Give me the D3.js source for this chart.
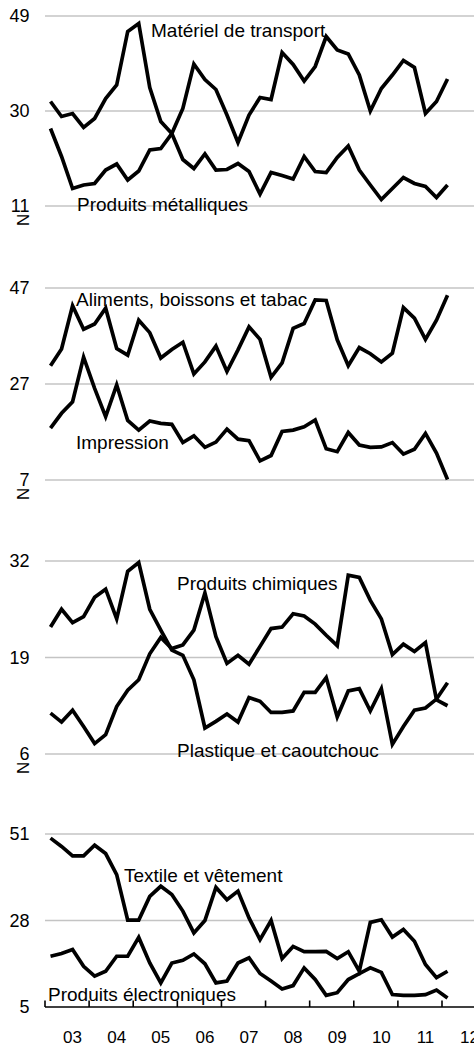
<!DOCTYPE html>
<html>
<head>
<meta charset="utf-8">
<script src="https://cdn.jsdelivr.net/npm/d3@7"></script>
<style>
  html, body { margin: 0; padding: 0; background: #fff; }
  svg { display: block; }
  text { font-family: "Liberation Sans", Arial, sans-serif; fill: #000; }
</style>
</head>
<body>
<script>
// ---------- DATA ----------
const quarters = [
  "2003T1","2003T2","2003T3","2003T4","2004T1","2004T2","2004T3","2004T4",
  "2005T1","2005T2","2005T3","2005T4","2006T1","2006T2","2006T3","2006T4",
  "2007T1","2007T2","2007T3","2007T4","2008T1","2008T2","2008T3","2008T4",
  "2009T1","2009T2","2009T3","2009T4","2010T1","2010T2","2010T3","2010T4",
  "2011T1","2011T2","2011T3","2011T4","2012T1"
];
const yearTicks = [2003,2004,2005,2006,2007,2008,2009,2010,2011,2012];
const yearLabels = ["03","04","05","06","07","08","09","10","11","12"];

const materielTransport = [31.9,28.9,29.5,26.7,28.5,32.5,35.2,45.9,47.5,34.7,27.9,25.5,20.3,18.5,21.4,18.2,18.3,19.5,17.9,13.4,17.7,17.1,16.4,20.9,17.9,17.7,20.7,23.0,18.2,15.2,12.3,14.5,16.7,15.5,14.9,12.7,15.2];
const produitsMetalliques = [26.5,20.9,14.5,15.2,15.5,18.2,19.4,16.2,18.0,22.2,22.5,25.5,30.5,39.4,36.3,34.3,29.2,23.7,29.2,32.7,32.3,41.7,39.3,36.0,38.9,44.9,42.2,41.4,37.2,30.0,34.5,37.2,40.1,38.7,29.5,31.9,36.4];

const aliments = [30.8,34.3,43.3,38.4,39.5,42.8,34.4,33.0,40.3,37.7,32.4,34.2,35.7,29.1,31.6,34.9,29.6,34.1,38.9,36.3,28.4,31.4,38.6,39.6,44.5,44.4,36.2,30.8,34.6,33.3,31.6,33.4,42.9,40.7,36.3,40.3,45.5];
const impression = [17.8,20.9,23.3,32.6,26.1,20.2,26.8,19.4,17.4,19.3,18.8,18.6,14.8,16.2,13.8,14.9,17.6,15.5,15.2,11.0,12.1,17.1,17.4,18.1,19.5,13.5,12.9,16.9,14.3,13.8,13.9,14.8,12.4,13.4,16.7,12.6,7.1];

const chimiques = [23.1,25.5,23.7,24.5,27.1,28.2,24.2,30.6,31.8,25.5,22.7,20.0,19.3,16.0,9.5,10.4,11.4,10.3,13.6,13.1,11.6,11.6,11.8,14.3,14.3,16.3,11.0,14.5,14.8,11.8,14.8,7.3,9.7,11.9,12.2,13.4,15.6];
const plastique = [11.5,10.3,11.9,9.7,7.4,8.6,12.4,14.6,16.0,19.5,21.7,20.2,20.7,22.7,27.7,21.8,18.2,19.3,18.1,20.5,22.9,23.1,24.9,24.6,23.5,22.0,20.6,30.1,29.8,26.7,24.2,19.4,20.8,19.8,21.0,13.3,12.5];

const textile = [49.9,47.7,45.2,45.2,48.0,45.8,40.2,28.1,28.1,34.4,37.1,34.9,30.5,24.7,28.0,36.8,33.5,35.8,28.7,22.9,28.0,17.9,21.1,19.7,19.7,19.8,17.9,19.7,14.5,27.5,28.2,23.6,25.6,22.5,16.3,12.8,14.5];
const electroniques = [18.5,19.2,20.3,15.8,13.2,14.5,18.5,18.5,23.5,16.7,11.4,16.7,17.4,19.1,16.5,11.4,11.9,16.7,18.1,13.9,11.9,9.8,10.7,15.4,12.3,8.1,8.8,12.3,13.9,15.4,14.2,8.3,8.1,8.1,8.3,9.5,7.4];

const panel1Ticks = [11,30,49];
const panel2Ticks = [7,27,47];
const panel3Ticks = [6,19,32];
const panel4Ticks = [5,28,51];

// ---------- LAYOUT ----------
const W = 474, H = 1045;
const left = 45, right = 474;

const svg = d3.select("body").append("svg")
  .attr("width", W).attr("height", H);

const x = d3.scaleLinear().domain([2003, 2012]).range([left, 442]);
const qToYear = q => +q.slice(0,4) + (+q.slice(5) - 0.5) / 4;

const panels = [
  { ticks: panel1Ticks, range: [206, 16], breakMark: true,
    series: [materielTransport, produitsMetalliques],
    labels: [ {t:"Matériel de transport", x:151, y:37}, {t:"Produits métalliques", x:77, y:211} ] },
  { ticks: panel2Ticks, range: [480, 288], breakMark: true,
    series: [aliments, impression],
    labels: [ {t:"Aliments, boissons et tabac", x:76, y:306}, {t:"Impression", x:76, y:449} ] },
  { ticks: panel3Ticks, range: [754, 561], breakMark: true,
    series: [chimiques, plastique],
    labels: [ {t:"Produits chimiques", x:177, y:590}, {t:"Plastique et caoutchouc", x:177, y:757} ] },
  { ticks: panel4Ticks, range: [1007, 834], breakMark: false, axis: true,
    series: [textile, electroniques],
    labels: [ {t:"Textile et vêtement", x:124, y:882}, {t:"Produits électroniques", x:48, y:1001} ] }
];

panels.forEach(p => {
  const y = d3.scaleLinear().domain([p.ticks[0], p.ticks[p.ticks.length-1]]).range(p.range);
  const g = svg.append("g");

  // gridlines
  const gridVals = p.axis ? p.ticks.slice(1) : p.ticks;
  g.selectAll("line.grid").data(gridVals).enter().append("line")
    .attr("class","grid")
    .attr("x1", left).attr("x2", right)
    .attr("y1", d => y(d)).attr("y2", d => y(d))
    .attr("stroke", "#c4c4c4").attr("stroke-width", 1.4);

  // y tick labels
  g.selectAll("text.tick").data(p.ticks).enter().append("text")
    .attr("class","tick")
    .attr("x", 29.5).attr("y", d => y(d))
    .attr("text-anchor","end").attr("dominant-baseline","central")
    .style("font-size","18px")
    .text(d => d);

  // axis break mark
  if (p.breakMark) {
    g.append("text")
      .attr("transform", `translate(22.5,${y(p.ticks[0]) + 14}) rotate(90)`)
      .attr("text-anchor","middle").attr("dominant-baseline","central")
      .style("font-size","17px")
      .text("N");
  }

  // x axis
  if (p.axis) {
    const ax = g.append("g").attr("transform", `translate(0,${y(p.ticks[0])})`);
    ax.append("line").attr("x1", left).attr("x2", right).attr("y1",0).attr("y2",0)
      .attr("stroke","#000").attr("stroke-width",1.6);
    ax.selectAll("line.xt").data(yearTicks).enter().append("line")
      .attr("x1", d => x(d)).attr("x2", d => x(d)).attr("y1", 0).attr("y2", -6.5)
      .attr("stroke","#000").attr("stroke-width",1.6);
    ax.selectAll("text.xl").data(yearTicks).enter().append("text")
      .attr("x", (d) => x(d + 0.625)).attr("y", 35.5)
      .attr("text-anchor","middle")
      .style("font-size","17px")
      .text((d,i) => yearLabels[i]);
  }

  // lines
  const line = d3.line()
    .x((d,i) => x(qToYear(quarters[i])))
    .y(d => y(d));
  p.series.forEach(s => {
    g.append("path").datum(s)
      .attr("d", line)
      .attr("fill","none").attr("stroke","#000")
      .attr("stroke-width", 3.7)
      .attr("stroke-linejoin","miter").attr("stroke-miterlimit", 4);
  });

  // labels
  p.labels.forEach(l => {
    g.append("text").attr("x", l.x).attr("y", l.y)
      .style("font-size","19px").text(l.t);
  });
});
</script>
</body>
</html>
